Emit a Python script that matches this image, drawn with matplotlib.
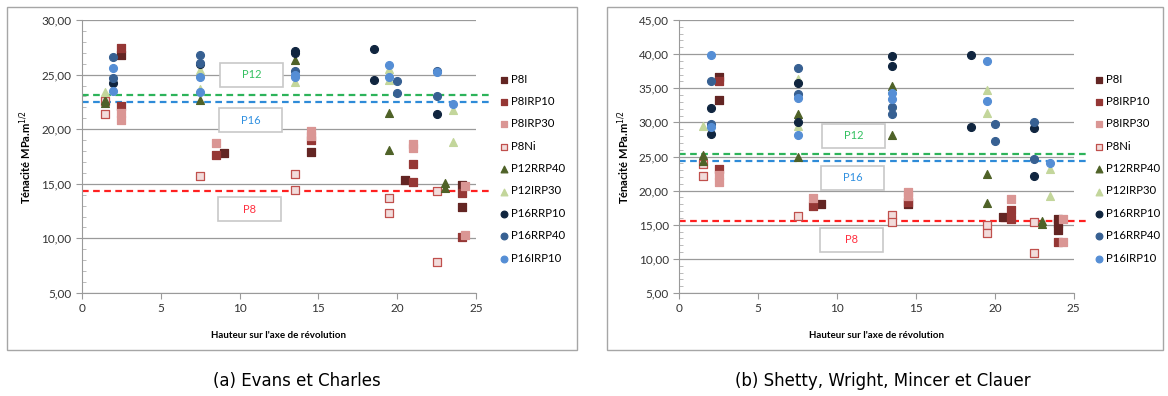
import matplotlib
matplotlib.use("Agg")
import matplotlib.pyplot as plt
from matplotlib.patches import Rectangle
from matplotlib.ticker import MultipleLocator, FuncFormatter


# series names
series = ["P8I", "P8IRP10", "P8IRP30", "P8Ni", "P12RRP40",
          "P12IRP30", "P16RRP10", "P16RRP40", "P16IRP10"]

# (a) Evans et Charles
a_x = {
    "P8I": [2.5, 9, 14.5, 20.5, 24.1, 24.1],
    "P8IRP10": [2.5, 2.5, 8.5, 14.5, 21, 21, 24.1, 24.1],
    "P8IRP30": [2.5, 2.5, 8.5, 14.5, 14.5, 21, 21, 24.3, 24.3],
    "P8Ni": [1.5, 1.5, 7.5, 13.5, 13.5, 19.5, 19.5, 22.5, 22.5],
    "P12RRP40": [1.5, 1.5, 7.5, 13.5, 19.5, 19.5, 23, 23],
    "P12IRP30": [1.5, 7.5, 7.5, 13.5, 19.5, 19.5, 23.5, 23.5],
    "P16RRP10": [2, 7.5, 13.5, 13.5, 18.5, 18.5, 22.5],
    "P16RRP40": [2, 2, 7.5, 7.5, 13.5, 20, 20, 22.5, 22.5],
    "P16IRP10": [2, 2, 7.5, 7.5, 13.5, 13.5, 19.5, 19.5, 22.5, 23.5],
}
a_y = {
    "P8I": [26.8, 17.8, 17.9, 15.35, 14.9, 12.9],
    "P8IRP10": [27.4, 22.1, 17.6, 19.0, 16.8, 15.2, 14.2, 10.1],
    "P8IRP30": [21.5, 20.8, 18.7, 19.8, 19.4, 18.6, 18.3, 14.8, 10.3],
    "P8Ni": [22.6, 21.4, 15.7, 15.9, 14.4, 13.7, 12.3, 14.3, 7.8],
    "P12RRP40": [22.7, 22.4, 22.7, 26.3, 21.5, 18.1, 15.1, 14.6],
    "P12IRP30": [23.4, 23.7, 25.4, 24.3, 25.5, 24.5, 21.8, 18.8],
    "P16RRP10": [24.2, 26.0, 27.2, 27.0, 27.3, 24.5, 21.4],
    "P16RRP40": [26.6, 24.7, 26.8, 26.1, 25.3, 24.4, 23.3, 25.3, 23.0],
    "P16IRP10": [25.6, 23.5, 24.8, 23.4, 25.0, 24.8, 25.9, 24.8, 25.2, 22.3],
}
a_means = {"P12": 23.1, "P16": 22.5, "P8": 14.3}

# (b) Shetty, Wright, Mincer et Clauer
b_x = {
    "P8I": [2.5, 2.5, 9, 14.5, 20.5, 24, 24, 24],
    "P8IRP10": [2.5, 2.5, 8.5, 14.5, 21, 21, 24],
    "P8IRP30": [2.5, 2.5, 8.5, 14.5, 14.5, 21, 24.3, 24.3],
    "P8Ni": [1.5, 1.5, 7.5, 13.5, 13.5, 19.5, 19.5, 22.5, 22.5],
    "P12RRP40": [1.5, 1.5, 7.5, 7.5, 13.5, 13.5, 19.5, 19.5, 23, 23],
    "P12IRP30": [1.5, 7.5, 7.5, 13.5, 19.5, 19.5, 23.5, 23.5],
    "P16RRP10": [2, 2, 7.5, 7.5, 13.5, 13.5, 18.5, 18.5, 22.5, 22.5],
    "P16RRP40": [2, 2, 7.5, 7.5, 13.5, 13.5, 20, 20, 22.5, 22.5],
    "P16IRP10": [2, 2, 7.5, 7.5, 13.5, 13.5, 19.5, 19.5, 23.5],
}
b_y = {
    "P8I": [36.6, 33.3, 18.1, 18.0, 16.2, 15.9, 15.2, 14.2],
    "P8IRP10": [36.0, 23.2, 17.8, 18.4, 17.2, 15.9, 12.5],
    "P8IRP30": [22.3, 21.2, 18.9, 19.8, 19.2, 18.8, 15.8, 12.5],
    "P8Ni": [23.9, 22.1, 16.3, 16.4, 15.4, 14.9, 13.8, 15.4, 10.8],
    "P12RRP40": [25.2, 24.4, 31.3, 24.9, 35.3, 28.2, 22.5, 18.2, 15.6, 15.1],
    "P12IRP30": [29.5, 36.4, 29.4, 32.5, 34.8, 31.4, 23.1, 19.2],
    "P16RRP10": [32.1, 28.3, 35.7, 30.0, 39.7, 38.3, 39.8, 29.3, 29.2, 22.2],
    "P16RRP40": [36.1, 29.8, 38.0, 34.1, 32.3, 31.3, 29.7, 27.3, 30.0, 24.7],
    "P16IRP10": [39.8, 29.3, 33.6, 28.1, 34.3, 33.4, 39.0, 33.2, 24.0],
}
b_means = {"P12": 25.4, "P16": 24.3, "P8": 15.6}

captions = ["(a) Evans et Charles", "(b) Shetty, Wright, Mincer et Clauer"]

# styles
styles = {
    "P8I": dict(marker="s", c="#632523", ec="#632523"),
    "P8IRP10": dict(marker="s", c="#953735", ec="#953735"),
    "P8IRP30": dict(marker="s", c="#DA9694", ec="#DA9694"),
    "P8Ni": dict(marker="s", c="#F2DCDB", ec="#C0504D"),
    "P12RRP40": dict(marker="^", c="#4F6228", ec="#4F6228"),
    "P12IRP30": dict(marker="^", c="#C3D69B", ec="#C3D69B"),
    "P16RRP10": dict(marker="o", c="#10253F", ec="#10253F"),
    "P16RRP40": dict(marker="o", c="#376092", ec="#376092"),
    "P16IRP10": dict(marker="o", c="#558ED5", ec="#558ED5"),
}
mean_colors = {"P12": "#2DB35A", "P16": "#2E8BD8", "P8": "#FF2020"}
text_colors = {"P12": "#33C060", "P16": "#3090E0", "P8": "#FF3040"}

plt.rcParams["font.family"] = ["Lato", "DejaVu Sans"]

W, H = 1168, 396
fig = plt.figure(figsize=(W / 100, H / 100), dpi=100)


def fx(px):
    return px / W


def fy(py):
    return 1 - py / H


panels = [
    dict(xs=a_x, ys=a_y, means=a_means, ymin=5, ymax=30, left=81.7,
         frame=(7, 577), leg_x=494, cap_x=297,
         boxes={"P12": (10.78, 25.0), "P16": (10.72, 20.84), "P8": (10.65, 12.65)}),
    dict(xs=b_x, ys=b_y, means=b_means, ymin=5, ymax=45, left=679.3,
         frame=(607, 1163), leg_x=1089, cap_x=883,
         boxes={"P12": (11.06, 28.06), "P16": (11.0, 21.9), "P8": (10.92, 12.8)}),
]

for i, p in enumerate(panels):
    # outer chart frame
    x0, x1 = p["frame"]
    fig.patches.append(Rectangle((fx(x0), fy(350)), fx(x1 - x0), (350 - 7) / H,
                                 transform=fig.transFigure, fill=False,
                                 ec="#a6a6a6", lw=1))

    ax = fig.add_axes([fx(p["left"]), fy(293), fx(394.5), 273 / H])
    ax.set_xlim(0, 25)
    ax.set_ylim(p["ymin"], p["ymax"])

    for name in series:
        st = styles[name]
        ax.scatter(p["xs"][name], p["ys"][name], marker=st["marker"], s=32,
                   c=st["c"], edgecolors=st["ec"], linewidths=0.9,
                   label=name, zorder=3)

    for key in ["P12", "P16", "P8"]:
        ax.plot([0, 25.8], [p["means"][key]] * 2, ls=(0, (3, 2)), lw=1.6,
                color=mean_colors[key], clip_on=False, zorder=2)

    # label boxes
    bh = 24 * (p["ymax"] - p["ymin"]) / 273
    for key, (cx, cy) in p["boxes"].items():
        ax.add_patch(Rectangle((cx - 2.0, cy - bh / 2), 4.0, bh, fc="white",
                               ec="#c8c8c8", lw=1.2, zorder=4))
        ax.text(cx, cy, key, color=text_colors[key], fontsize=8,
                ha="center", va="center", zorder=5)

    ax.yaxis.set_major_locator(MultipleLocator(5))
    ax.yaxis.set_minor_locator(MultipleLocator(1))
    ax.xaxis.set_major_locator(MultipleLocator(5))
    ax.yaxis.set_major_formatter(FuncFormatter(lambda v, pos: f"{v:.2f}".replace(".", ",")))
    ax.grid(axis="y", which="major", color="#9a9a9a", lw=0.9)
    ax.set_axisbelow(True)
    for s in ["top", "right"]:
        ax.spines[s].set_visible(False)
    for s in ["left", "bottom"]:
        ax.spines[s].set_color("#9a9a9a")
    ax.tick_params(which="major", length=4, color="#9a9a9a", labelsize=8.5,
                   labelcolor="#333333", direction="out")
    ax.tick_params(axis="y", which="minor", length=3, color="#b0b0b0", direction="in")

    ax.set_ylabel("Ténacité MPa.m$^{1/2}$", fontsize=8, fontweight="bold", labelpad=5)
    ax.set_xlabel("Hauteur sur l'axe de révolution", fontsize=7, fontweight="bold",
                  labelpad=12)

    ax.legend(loc="upper left", bbox_to_anchor=(fx(p["leg_x"]), fy(69)),
              bbox_transform=fig.transFigure, frameon=False, fontsize=8.2,
              handletextpad=0.1, labelspacing=1.0, markerscale=0.85,
              handlelength=1.0, borderaxespad=0)

    fig.text(fx(p["cap_x"]), fy(381), captions[i], ha="center", va="center",
             fontsize=12, family=["DejaVu Sans"])

fig.savefig("out.png", dpi=100)
